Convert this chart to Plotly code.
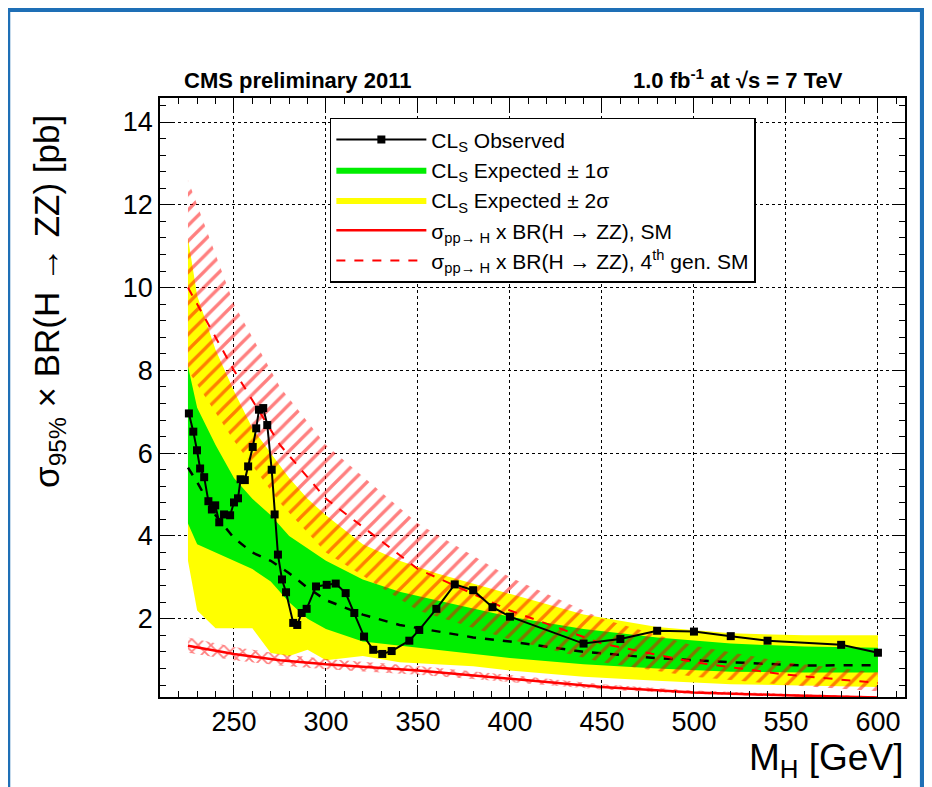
import plotly.graph_objects as go

# observed limit
obs_m = [225.5, 227.9, 229.9, 231.6, 233.8, 236.1, 238, 239.8, 242, 244.6, 247.9, 250, 252.2, 253.6,
         255.9, 257.7, 260.2, 262.1, 263.6, 265.9, 268.1, 270.5, 272.1, 273.9, 276.1, 278.3, 282.2,
         284.4, 286.8, 289.5, 294.6, 300.4, 305.3, 310.7, 315.4, 320.7, 325.7, 330.6, 335.7, 345.3,
         350.7, 360, 370, 380, 390.5, 400, 440, 460, 480, 500, 520, 540, 580, 600]
obs_lim = [6.96, 6.52, 6.07, 5.63, 5.42, 4.84, 4.64, 4.74, 4.33, 4.52, 4.5, 4.81, 4.91, 5.37,
           5.35, 5.68, 6.15, 6.6, 7.05, 7.09, 6.68, 5.6, 4.52, 3.55, 2.95, 2.64, 1.9,
           1.85, 2.14, 2.24, 2.78, 2.82, 2.85, 2.62, 2.14, 1.57, 1.25, 1.15, 1.22, 1.47,
           1.73, 2.24, 2.83, 2.69, 2.28, 2.05, 1.4, 1.51, 1.71, 1.69, 1.58, 1.47, 1.37, 1.18]

# expected limit and bands
exp_m = [225, 230, 240, 250, 260, 270, 280, 290, 300, 320, 340, 360, 380, 400, 440, 480, 520, 560, 600]
exp_med = [5.65, 5.3, 4.5, 3.95, 3.6, 3.4, 3.1, 2.75, 2.45, 2.1, 1.85, 1.7, 1.55, 1.45, 1.2, 1.05, 0.95, 0.87, 0.88]
s1_up = [8.1, 7.1, 6.2, 5.4, 4.9, 4.5, 4.0, 3.7, 3.4, 2.95, 2.65, 2.45, 2.25, 2.05, 1.75, 1.55, 1.4, 1.33, 1.3]
s1_lo = [4.3, 3.8, 3.6, 3.4, 3.2, 2.9, 2.4, 2.0, 1.75, 1.45, 1.35, 1.25, 1.15, 1.05, 0.9, 0.8, 0.72, 0.7, 0.7]
s2_up = [11.2, 9.8, 8.5, 7.5, 6.6, 6.0, 5.4, 4.9, 4.5, 3.8, 3.4, 3.1, 2.85, 2.6, 2.1, 1.8, 1.65, 1.6, 1.6]
s2_lo = [3.4, 2.2, 1.77, 1.77, 1.77, 1.17, 1.1, 1.25, 1.0, 1.1, 0.95, 0.9, 0.85, 0.75, 0.6, 0.5, 0.42, 0.38, 0.35]

# theory predictions
th_m = [225, 250, 275, 300, 350, 400, 450, 500, 550, 600]
sm = [1.35, 1.15, 1.0, 0.9, 0.75, 0.55, 0.35, 0.22, 0.15, 0.1]
sm_up = [1.55, 1.32, 1.15, 1.03, 0.86, 0.64, 0.42, 0.27, 0.19, 0.13]
sm_lo = [1.18, 1.0, 0.87, 0.78, 0.65, 0.47, 0.29, 0.18, 0.12, 0.08]
sm4 = [10.0, 8.0, 6.2, 4.9, 3.2, 2.2, 1.4, 0.95, 0.65, 0.45]
sm4_up = [12.6, 9.6, 7.6, 6.2, 4.3, 3.0, 2.0, 1.35, 0.95, 0.7]
sm4_lo = [8.0, 6.3, 4.8, 3.6, 2.2, 1.5, 0.95, 0.6, 0.4, 0.25]

fig = go.Figure()

def band(x, lo, up, **kw):
    return go.Scatter(x=x + x[::-1], y=up + lo[::-1], fill="toself", mode="lines", **kw)

fig.add_trace(band(exp_m, s2_lo, s2_up, fillcolor="#ffff00", line=dict(width=0),
                   name="CL<sub>S</sub> Expected ± 2σ", legendrank=3))
fig.add_trace(band(exp_m, s1_lo, s1_up, fillcolor="#00ee00", line=dict(width=0),
                   name="CL<sub>S</sub> Expected ± 1σ", legendrank=2))
fig.add_trace(go.Scatter(x=exp_m, y=exp_med, mode="lines", line=dict(color="black", width=2.5, dash="dash"),
                         showlegend=False))
fig.add_trace(band(th_m, sm4_lo, sm4_up, fillcolor="rgba(0,0,0,0)", line=dict(width=0),
                   fillpattern=dict(shape="/", fgcolor="red", bgcolor="rgba(0,0,0,0)", size=11, solidity=0.3),
                   showlegend=False))
fig.add_trace(go.Scatter(x=th_m, y=sm4, mode="lines", line=dict(color="red", width=2, dash="dash"),
                         name="σ<sub>pp→ H</sub> x BR(H → ZZ), 4<sup>th</sup> gen. SM", legendrank=5))
fig.add_trace(band(th_m, sm_lo, sm_up, fillcolor="rgba(0,0,0,0)", line=dict(width=0),
                   fillpattern=dict(shape="x", fgcolor="red", bgcolor="rgba(0,0,0,0)", size=9, solidity=0.35),
                   showlegend=False))
fig.add_trace(go.Scatter(x=th_m, y=sm, mode="lines", line=dict(color="red", width=2.5),
                         name="σ<sub>pp→ H</sub> x BR(H → ZZ), SM", legendrank=4))
fig.add_trace(go.Scatter(x=obs_m, y=obs_lim, mode="lines+markers", line=dict(color="black", width=2),
                         marker=dict(symbol="square", size=8, color="black"),
                         name="CL<sub>S</sub> Observed", legendrank=1))

axis = dict(showline=True, linecolor="black", linewidth=1.5, mirror="allticks", ticks="inside",
            ticklen=12, tickcolor="black", showgrid=True, gridcolor="black", griddash="dot",
            gridwidth=1, zeroline=False, tickfont=dict(size=27, color="black"), automargin=False,
            minor=dict(ticks="inside", ticklen=6, tickcolor="black", showgrid=False))

fig.update_xaxes(axis, range=[209.8, 614.7], tickvals=[250, 300, 350, 400, 450, 500, 550, 600],
                 minor_dtick=10)
fig.update_yaxes(axis, range=[0.11, 14.58], minor_dtick=0.4,
                 tickvals=[2, 4, 6, 8, 10, 12, 14])

fig.update_layout(
    width=932, height=787,
    margin=dict(l=152, r=35, t=90, b=98),
    paper_bgcolor="#1e6fb6", plot_bgcolor="white",
    font=dict(family="Liberation Sans, Arial, sans-serif", color="black"),
    legend=dict(x=0.228, y=0.967, xanchor="left", yanchor="top", bgcolor="white",
                bordercolor="black", borderwidth=1.5, font=dict(size=21), tracegroupgap=0,
                itemwidth=90),
    shapes=[dict(type="rect", xref="paper", yref="paper", x0=-0.201, x1=1.02, y0=-0.2, y1=1.1436,
                 fillcolor="white", line=dict(width=0), layer="below")],
    annotations=[
        dict(text="<b>CMS preliminary 2011</b>", xref="paper", yref="paper", x=0.03, y=1.005,
             xanchor="left", yanchor="bottom", showarrow=False, font=dict(size=22)),
        dict(text="<b>1.0 fb<sup>-1</sup> at √s = 7 TeV</b>", xref="paper", yref="paper", x=0.92, y=1.005,
             xanchor="right", yanchor="bottom", showarrow=False, font=dict(size=22)),
        dict(text="M<sub>H</sub> [GeV]", xref="paper", yref="paper", x=1.0, y=-0.105,
             xanchor="right", yanchor="middle", showarrow=False, font=dict(size=37)),
        dict(text="σ<sub>95%</sub> × BR(H → ZZ) [pb]", xref="paper", yref="paper", x=-0.15, y=0.66,
             xanchor="center", yanchor="middle", textangle=-90, showarrow=False, font=dict(size=35)),
    ],
)

fig.write_html("out.html")
